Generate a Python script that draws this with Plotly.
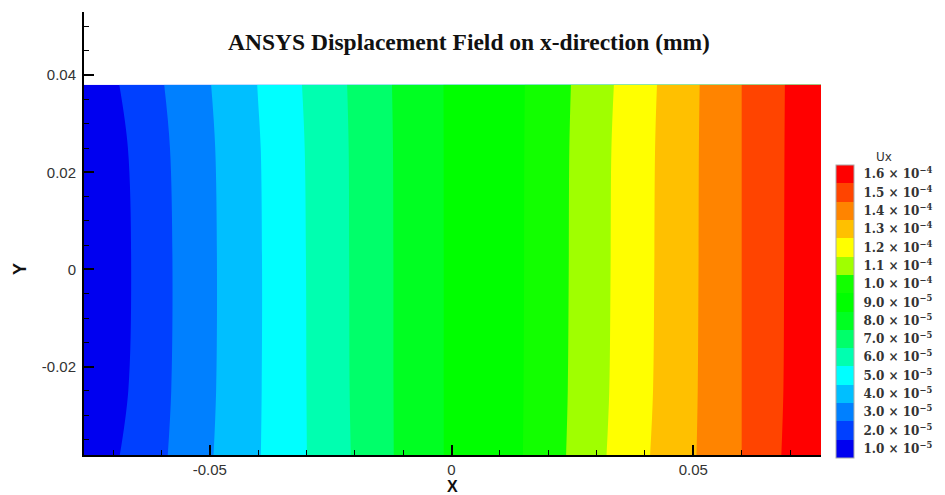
import plotly.graph_objects as go

# ---- data (Ux in units of 1e-5 mm) ----
X_GRID = [-0.076, -0.07, -0.06, -0.05, -0.04, -0.03, -0.02, -0.01, 0.0, 0.01,
          0.02, 0.03, 0.04, 0.05, 0.06, 0.07, 0.0764]
Y_GRID = [-0.0382, -0.025, 0.0, 0.025, 0.038]
UX_ROW_BOTTOM = [0.72, 1.36, 2.36, 3.42, 4.44, 5.49, 6.59, 7.72, 8.65, 9.00, 10.05, 11.27, 12.39, 13.43, 14.50, 15.72, 16.35]
UX_ROW_LOWER = [0.53, 1.14, 2.28, 3.36, 4.42, 5.50, 6.62, 7.72, 8.65, 9.00, 10.02, 11.21, 12.32, 13.40, 14.50, 15.66, 16.32]
UX_ROW_MID = [0.45, 1.05, 2.25, 3.34, 4.41, 5.51, 6.63, 7.72, 8.65, 9.00, 10.00, 11.18, 12.29, 13.38, 14.50, 15.64, 16.30]
UX_ROW_UPPER = [0.53, 1.14, 2.31, 3.38, 4.44, 5.54, 6.64, 7.73, 8.65, 9.00, 9.99, 11.16, 12.27, 13.37, 14.50, 15.63, 16.30]
UX_ROW_TOP = [0.72, 1.36, 2.44, 3.47, 4.52, 5.60, 6.67, 7.75, 8.65, 9.00, 9.97, 11.10, 12.22, 13.35, 14.50, 15.62, 16.30]

LEVEL_VALUES = [1, 2, 3, 4, 5, 6, 7, 8, 9, 10, 11, 12, 13, 14, 15, 16]
LEVEL_LABELS = ["1.0 × 10<sup>−5</sup>", "2.0 × 10<sup>−5</sup>", "3.0 × 10<sup>−5</sup>",
                "4.0 × 10<sup>−5</sup>", "5.0 × 10<sup>−5</sup>", "6.0 × 10<sup>−5</sup>",
                "7.0 × 10<sup>−5</sup>", "8.0 × 10<sup>−5</sup>", "9.0 × 10<sup>−5</sup>",
                "1.0 × 10<sup>−4</sup>", "1.1 × 10<sup>−4</sup>", "1.2 × 10<sup>−4</sup>",
                "1.3 × 10<sup>−4</sup>", "1.4 × 10<sup>−4</sup>", "1.5 × 10<sup>−4</sup>",
                "1.6 × 10<sup>−4</sup>"]
BAND_COLORS = ["#0000f0", "#0040ff", "#0080ff", "#00bfff", "#00ffff", "#00ffb0",
               "#00ff6a", "#00ff22", "#00ff00", "#12ff00", "#a0ff00", "#ffff00",
               "#ffc000", "#ff8400", "#ff4400", "#ff0000"]

X_TICKS = [-0.05, 0, 0.05]
X_TICK_TEXT = ["-0.05", "0", "0.05"]
Y_TICKS = [-0.02, 0, 0.02, 0.04]
Y_TICK_TEXT = ["-0.02", "0", "0.02", "0.04"]

TITLE = "ANSYS Displacement Field on x-direction (mm)"

z = [UX_ROW_BOTTOM, UX_ROW_LOWER, UX_ROW_MID, UX_ROW_UPPER, UX_ROW_TOP]
n = len(BAND_COLORS)
colorscale = [[i / (n - 1), c] for i, c in enumerate(BAND_COLORS)]

fig = go.Figure()
fig.add_trace(go.Contour(
    x=X_GRID, y=Y_GRID, z=z,
    colorscale=colorscale,
    zmin=0.5, zmax=16.5,
    contours=dict(start=1.5, end=15.5, size=1, coloring="fill", showlines=False),
    line=dict(width=0),
    colorbar=dict(
        tickvals=LEVEL_VALUES, ticktext=LEVEL_LABELS,
        tickfont=dict(family="DejaVu Serif", size=12, color="#333", weight="bold"),
        thickness=18, lenmode="pixels", len=293,
        x=1.0203, xanchor="left", xpad=0,
        y=0.324, yanchor="middle", ypad=0,
        outlinewidth=1, outlinecolor="#aaa",
        ticks="outside", ticklen=7, tickcolor="rgba(0,0,0,0)",
    ),
))

axis_common = dict(
    showgrid=False, zeroline=False, showline=True, linecolor="black", linewidth=2,
    ticks="inside", ticklen=10, tickwidth=1.5, tickcolor="black",
    tickfont=dict(family="Liberation Sans", size=15, color="#333"),
    tickmode="array",
)
fig.update_xaxes(**axis_common, range=[X_GRID[0], X_GRID[-1]],
                 tickvals=X_TICKS, ticktext=X_TICK_TEXT,
                 minor=dict(tickmode="linear", tick0=0, dtick=0.01, ticks="inside",
                            ticklen=5, tickwidth=1, tickcolor="black"),
                 ticklabelstandoff=0)
fig.update_yaxes(**axis_common, range=[Y_GRID[0], 0.053],
                 tickvals=Y_TICKS, ticktext=Y_TICK_TEXT,
                 minor=dict(tickmode="linear", tick0=0, dtick=0.005, ticks="inside",
                            ticklen=5, tickwidth=1, tickcolor="black"),
                 ticklabelstandoff=3)

fig.update_layout(
    width=945, height=495,
    margin=dict(l=84, r=122, t=12, b=40),
    paper_bgcolor="white", plot_bgcolor="white",
    showlegend=False,
    annotations=[
        dict(text="<b>" + TITLE + "</b>", x=0.522, y=0.932, xref="paper", yref="paper",
             showarrow=False, xanchor="center", yanchor="middle",
             font=dict(family="Liberation Serif", size=23.5, color="#111")),
        dict(text="<b>X</b>", x=0.5, y=-0.07, xref="paper", yref="paper",
             showarrow=False, xanchor="center", yanchor="middle",
             font=dict(family="Liberation Sans", size=16, color="#111")),
        dict(text="<b>Y</b>", x=-0.0866, y=0.42, xref="paper", yref="paper",
             showarrow=False, xanchor="center", yanchor="middle", textangle=-90,
             font=dict(family="Liberation Sans", size=18, color="#111")),
        dict(text="Ux", x=1.086, y=0.672, xref="paper", yref="paper",
             showarrow=False, xanchor="center", yanchor="middle",
             font=dict(family="DejaVu Sans", size=12, color="#333")),
    ],
)

fig.write_html("out.html")
